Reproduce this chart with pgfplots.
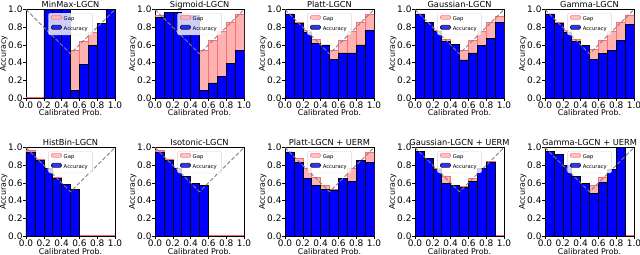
\documentclass[border=0pt]{standalone}
\usepackage{fontspec}
\setmainfont{DejaVu Sans}
\usepackage{pgfplots}
\pgfplotsset{compat=1.18}
\definecolor{gapfill}{RGB}{255,178,178}
\definecolor{gapedge}{RGB}{255,110,110}
\definecolor{accblue}{RGB}{0,0,255}
\pgfplotsset{
  patchlegend/.style={legend image code/.code={\draw[##1] (0bp,-0.2bp) rectangle (10bp,3.8bp);}},
  every axis title/.style={at={(0.5,1)}, anchor=base, yshift=2bp, inner sep=0pt, font=\fontsize{8.3}{9}\selectfont},
  every axis x label/.style={at={(0.5,0)}, anchor=base, yshift=-18bp, inner sep=0pt, font=\fontsize{7.9}{9}\selectfont},
  every axis y label/.style={at={(-0.225,0.5)}, rotate=90, anchor=base, inner sep=0pt, font=\fontsize{7.9}{9}\selectfont},
  rel/.style={
    scale only axis, width=89bp, height=88.5bp,
    xmin=0, xmax=1, ymin=0, ymax=1,
    xtick={0,0.2,0.4,0.6,0.8,1}, ytick={0,0.2,0.4,0.6,0.8,1},
    /pgf/number format/.cd, fixed, fixed zerofill, precision=1, assume math mode=true, /pgfplots/.cd,
    ticklabel style={font=\fontsize{9}{10}\selectfont},
    yticklabel style={inner xsep=0.3bp},
    xticklabel style={inner ysep=0.8bp},
    tick align=outside, xtick pos=bottom, ytick pos=left,
    major tick length=3bp,
    tick style={black, line width=0.6bp},
    axis line style={line width=0.6bp},
    xlabel={Calibrated Prob.}, ylabel={Accuracy},
    legend style={at={(0.5,0.96)}, anchor=north, font=\fontsize{5.3}{6}\selectfont,
      fill=white, fill opacity=0.8, draw opacity=0.8, text opacity=1, draw=black!20,
      rounded corners=1.2bp, inner xsep=2.5bp, inner ysep=1.2bp, row sep=0.6bp,
      /tikz/every even column/.append style={column sep=3bp}},
    legend cell align=left,
  }
}
\newcommand{\panel}[4]{%
\begin{axis}[rel, at={(#1)}, anchor=south west, title={#2}]
\addplot[ybar interval, patchlegend, fill=gapfill, draw=gapedge, line width=0.6bp] coordinates {#3};
\addlegendentry{Gap}
\addplot[ybar interval, patchlegend, fill=accblue, draw=black, line width=0.6bp] coordinates {#4};
\addlegendentry{Accuracy}
\addplot[forget plot, gray, line width=0.9bp, dash pattern=on 4bp off 2bp] coordinates {(0,1) (0.5,0.5) (1,1)};
\end{axis}}
\begin{document}
\begin{tikzpicture}
\useasboundingbox (0,0) rectangle (640bp,255bp);
% top row
\panel{26bp,157bp}{MinMax-LGCN}
 {(0,0.008) (0.1,0.008) (0.2,0) (0.3,0) (0.4,0) (0.5,0.535) (0.6,0.645) (0.7,0.74) (0.8,0) (0.9,0) (1.0,0)}
 {(0.2,1) (0.3,1) (0.4,1) (0.5,0.09) (0.6,0.38) (0.7,0.59) (0.8,0.84) (0.9,1.0) (1.0,0)}
\panel{155bp,157bp}{Sigmoid-LGCN}
 {(0,0.93) (0.1,0) (0.2,0) (0.3,0) (0.4,0) (0.5,0.535) (0.6,0.648) (0.7,0.75) (0.8,0.85) (0.9,0.95) (1.0,0)}
 {(0,0.907) (0.1,0.963) (0.2,0.963) (0.3,0.94) (0.4,0.94) (0.5,0.086) (0.6,0.17) (0.7,0.24) (0.8,0.39) (0.9,0.54) (1.0,0)}
\panel{285bp,157bp}{Platt-LGCN}
 {(0,0) (0.1,0.86) (0.2,0.76) (0.3,0.66) (0.4,0) (0.5,0.54) (0.6,0.65) (0.7,0.75) (0.8,0.85) (0.9,0.945) (1.0,0)}
 {(0,0.95) (0.1,0.84) (0.2,0.74) (0.3,0.62) (0.4,0.60) (0.5,0.44) (0.6,0.51) (0.7,0.51) (0.8,0.60) (0.9,0.765) (1.0,0)}
\panel{415bp,157bp}{Gaussian-LGCN}
 {(0,0) (0.1,0.86) (0.2,0.765) (0.3,0.66) (0.4,0) (0.5,0.54) (0.6,0.65) (0.7,0.75) (0.8,0.85) (0.9,0.92) (1.0,0)}
 {(0,0.95) (0.1,0.85) (0.2,0.75) (0.3,0.64) (0.4,0.61) (0.5,0.43) (0.6,0.51) (0.7,0.59) (0.8,0.67) (0.9,0.85) (1.0,0)}
\panel{545bp,157bp}{Gamma-LGCN}
 {(0,0) (0.1,0.86) (0.2,0.76) (0.3,0.66) (0.4,0) (0.5,0.55) (0.6,0.65) (0.7,0.75) (0.8,0.86) (0.9,0.94) (1.0,0)}
 {(0,0.95) (0.1,0.84) (0.2,0.74) (0.3,0.64) (0.4,0.59) (0.5,0.44) (0.6,0.50) (0.7,0.54) (0.8,0.65) (0.9,0.83) (1.0,0)}
% bottom row
\panel{26bp,19bp}{HistBin-LGCN}
 {(0,0.97) (0.1,0.87) (0.2,0) (0.3,0.66) (0.4,0) (0.5,0.53) (0.6,0.008) (0.7,0.008) (0.8,0.008) (0.9,0.008) (1.0,0)}
 {(0,0.95) (0.1,0.85) (0.2,0.76) (0.3,0.65) (0.4,0.585) (0.5,0.525) (0.6,0)}
\panel{155bp,19bp}{Isotonic-LGCN}
 {(0,0.97) (0.1,0.87) (0.2,0) (0.3,0) (0.4,0) (0.5,0) (0.6,0.008) (0.7,0.008) (0.8,0.008) (0.9,0.008) (1.0,0)}
 {(0,0.95) (0.1,0.85) (0.2,0.77) (0.3,0.67) (0.4,0.59) (0.5,0.57) (0.6,0)}
\panel{285bp,19bp}{Platt-LGCN + UERM}
 {(0,0) (0.1,0.88) (0.2,0.77) (0.3,0.665) (0.4,0.57) (0.5,0.53) (0.6,0) (0.7,0.77) (0.8,0.86) (0.9,0.95) (1.0,0)}
 {(0,0.95) (0.1,0.83) (0.2,0.65) (0.3,0.57) (0.4,0.525) (0.5,0.52) (0.6,0.65) (0.7,0.62) (0.8,0.855) (0.9,0.83) (1.0,0)}
\panel{415bp,19bp}{Gaussian-LGCN + UERM}
 {(0,0) (0.1,0) (0.2,0.77) (0.3,0.68) (0.4,0) (0.5,0.56) (0.6,0.65) (0.7,0) (0.8,0.84) (0.9,0.008) (1.0,0)}
 {(0,0.96) (0.1,0.875) (0.2,0.75) (0.3,0.59) (0.4,0.57) (0.5,0.55) (0.6,0.62) (0.7,0.765) (0.8,0.83) (0.9,0)}
\panel{545bp,19bp}{Gamma-LGCN + UERM}
 {(0,0) (0.1,0) (0.2,0) (0.3,0) (0.4,0) (0.5,0.57) (0.6,0.66) (0.7,0) (0.8,0) (0.9,0.008) (1.0,0)}
 {(0,0.96) (0.1,0.92) (0.2,0.80) (0.3,0.67) (0.4,0.59) (0.5,0.48) (0.6,0.61) (0.7,0.75) (0.8,1.0) (0.9,0)}
\end{tikzpicture}
\end{document}
